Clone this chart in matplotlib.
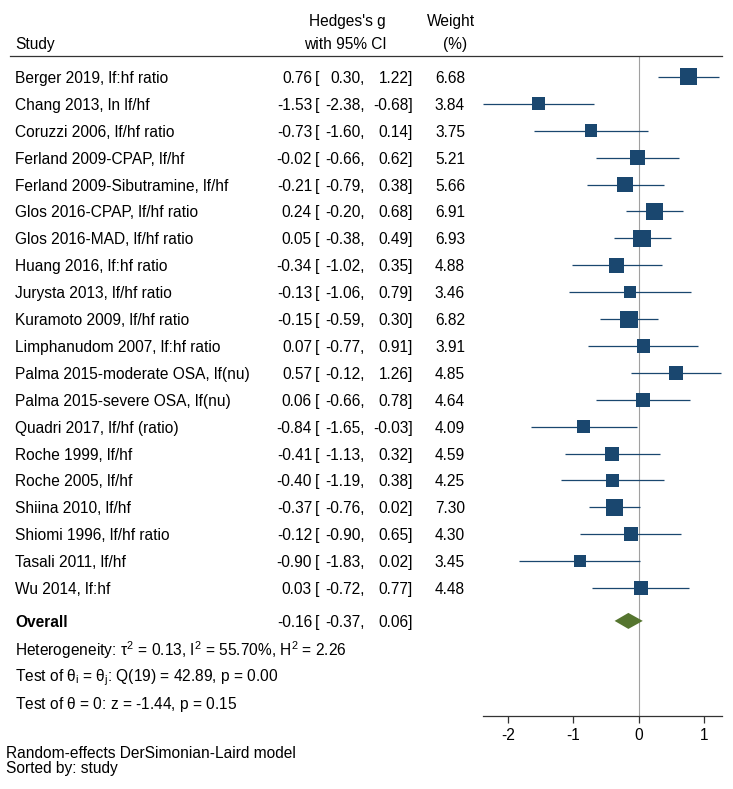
import matplotlib
matplotlib.use("Agg")
import matplotlib.pyplot as plt
from matplotlib.lines import Line2D
from matplotlib.transforms import blended_transform_factory
import numpy as np

plt.rcParams['font.family'] = ['Liberation Sans', 'DejaVu Sans']
plt.rcParams['mathtext.fontset'] = 'custom'
plt.rcParams['mathtext.rm'] = 'Liberation Sans'
plt.rcParams['mathtext.it'] = 'Liberation Sans'
plt.rcParams['mathtext.bf'] = 'Liberation Sans:bold'

studies = [
    "Berger 2019, lf:hf ratio",
    "Chang 2013, ln lf/hf",
    "Coruzzi 2006, lf/hf ratio",
    "Ferland 2009-CPAP, lf/hf",
    "Ferland 2009-Sibutramine, lf/hf",
    "Glos 2016-CPAP, lf/hf ratio",
    "Glos 2016-MAD, lf/hf ratio",
    "Huang 2016, lf:hf ratio",
    "Jurysta 2013, lf/hf ratio",
    "Kuramoto 2009, lf/hf ratio",
    "Limphanudom 2007, lf:hf ratio",
    "Palma 2015-moderate OSA, lf(nu)",
    "Palma 2015-severe OSA, lf(nu)",
    "Quadri 2017, lf/hf (ratio)",
    "Roche 1999, lf/hf",
    "Roche 2005, lf/hf",
    "Shiina 2010, lf/hf",
    "Shiomi 1996, lf/hf ratio",
    "Tasali 2011, lf/hf",
    "Wu 2014, lf:hf",
]
es = [0.76, -1.53, -0.73, -0.02, -0.21, 0.24, 0.05, -0.34, -0.13, -0.15,
      0.07, 0.57, 0.06, -0.84, -0.41, -0.40, -0.37, -0.12, -0.90, 0.03]
lo = [0.30, -2.38, -1.60, -0.66, -0.79, -0.20, -0.38, -1.02, -1.06, -0.59,
      -0.77, -0.12, -0.66, -1.65, -1.13, -1.19, -0.76, -0.90, -1.83, -0.72]
hi = [1.22, -0.68, 0.14, 0.62, 0.38, 0.68, 0.49, 0.35, 0.79, 0.30,
      0.91, 1.26, 0.78, -0.03, 0.32, 0.38, 0.02, 0.65, 0.02, 0.77]
weights = [6.68, 3.84, 3.75, 5.21, 5.66, 6.91, 6.93, 4.88, 3.46, 6.82,
           3.91, 4.85, 4.64, 4.09, 4.59, 4.25, 7.30, 4.30, 3.45, 4.48]
overall = (-0.16, -0.37, 0.06)
xticks = [-2, -1, 0, 1]

W, H = 733, 789
fig = plt.figure(figsize=(W / 100, H / 100), dpi=100)

# axes geometry (pixels)
ax_left, ax_right, ax_top, ax_bot = 483, 722, 56, 716
ax = fig.add_axes([ax_left / W, 1 - ax_bot / H, (ax_right - ax_left) / W, (ax_bot - ax_top) / H])

row0_px, row_step = 77, 26.9
ytop = -(row0_px - ax_top) / row_step
ybot = (ax_bot - row0_px) / row_step
ax.set_ylim(ybot, ytop)
ax.set_xlim(-2.38, 1.27)

navy = '#1a476f'
green = '#55752f'
fs = 11.2
va = 'center_baseline'

n = len(studies)
ys = np.arange(n)
for i in range(n):
    ax.plot([lo[i], hi[i]], [ys[i], ys[i]], color=navy, lw=0.9, solid_capstyle='butt', zorder=2)
side_px = 17 * np.sqrt(np.array(weights) / 6.68)
side_pt = side_px * 72 / 100
ax.scatter(es, ys, s=side_pt ** 2, marker='s', color=navy, linewidths=0, zorder=3)

# overall diamond
y_ov = 20.22
half_h = 8 / row_step
ax.fill([overall[1], overall[0], overall[2], overall[0]],
        [y_ov, y_ov - half_h, y_ov, y_ov + half_h], color=green, lw=0, zorder=3)

ax.axvline(0, color='#a0a0a0', lw=0.8, zorder=1)

for s in ['top', 'right', 'left']:
    ax.spines[s].set_visible(False)
ax.spines['bottom'].set_color('#333333')
ax.spines['bottom'].set_linewidth(0.9)
ax.set_yticks([])
ax.set_xticks(xticks)
ax.set_xticklabels([str(t) for t in xticks])
ax.tick_params(axis='x', length=5, width=0.9, color='#333333', labelsize=fs, pad=4)

tr = blended_transform_factory(fig.transFigure, ax.transData)

def fx(px):
    return px / W

def fy(py):
    return 1 - py / H

def fmt(v):
    return f"{v:.2f}"

def cols(y, e, l, h, w=None):
    ax.text(fx(312), y, fmt(e), transform=tr, ha='right', va=va, fontsize=fs)
    ax.text(fx(315), y, "[", transform=tr, ha='left', va=va, fontsize=fs)
    ax.text(fx(365), y, fmt(l) + ",", transform=tr, ha='right', va=va, fontsize=fs)
    ax.text(fx(413), y, fmt(h) + "]", transform=tr, ha='right', va=va, fontsize=fs)
    if w is not None:
        ax.text(fx(465), y, fmt(w), transform=tr, ha='right', va=va, fontsize=fs)

for i in range(n):
    ax.text(fx(15), ys[i], studies[i], transform=tr, ha='left', va=va, fontsize=fs)
    cols(ys[i], es[i], lo[i], hi[i], weights[i])

ax.text(fx(15), y_ov, "Overall", transform=tr, ha='left', va=va, fontsize=fs, fontweight='bold')
cols(y_ov, *overall)

ax.text(fx(15), y_ov + 1.0, r"Heterogeneity: $\tau^{2}$ = 0.13, I$^{2}$ = 55.70%, H$^{2}$ = 2.26",
        transform=tr, ha='left', va=va, fontsize=fs)
ax.text(fx(15), y_ov + 2.0, r"Test of $\theta_{i}$ = $\theta_{j}$: Q(19) = 42.89, p = 0.00",
        transform=tr, ha='left', va=va, fontsize=fs)
ax.text(fx(15), y_ov + 3.0, r"Test of $\theta$ = 0: z = -1.44, p = 0.15",
        transform=tr, ha='left', va=va, fontsize=fs)

# header
fig.text(fx(386), fy(20), "Hedges's g", ha='right', va=va, fontsize=fs)
fig.text(fx(15), fy(43), "Study", ha='left', va=va, fontsize=fs)
fig.text(fx(387), fy(43), "with 95% CI", ha='right', va=va, fontsize=fs)
fig.text(fx(451), fy(20), "Weight", ha='center', va=va, fontsize=fs)
fig.text(fx(455), fy(43), "(%)", ha='center', va=va, fontsize=fs)
fig.add_artist(Line2D([fx(10), fx(722)], [fy(56), fy(56)], color='#333333', lw=0.9))

# footer
fig.text(fx(6), fy(752), "Random-effects DerSimonian-Laird model", ha='left', va=va, fontsize=fs)
fig.text(fx(6), fy(767), "Sorted by: study", ha='left', va=va, fontsize=fs)

fig.savefig("out.png", dpi=100, facecolor='white')
